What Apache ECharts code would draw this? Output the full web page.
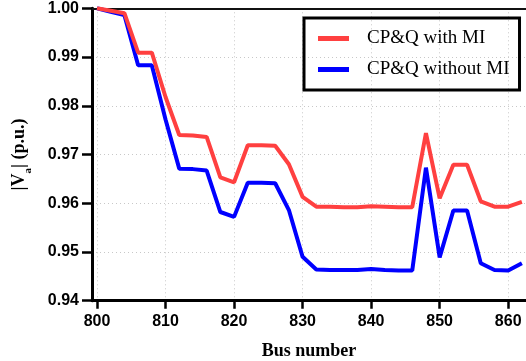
<!DOCTYPE html>
<html>
<head>
<meta charset="utf-8">
<script src="https://cdn.jsdelivr.net/npm/echarts@6/dist/echarts.min.js"></script>
<style>
  html, body { margin: 0; padding: 0; background: #fff; }
  #main { width: 526px; height: 361px; }
</style>
</head>
<body>
<div id="main"></div>
<script>
// bus numbers along the feeder
var buses = [800, 802, 804, 806, 808, 810, 812, 814, 816, 818, 820, 822, 824, 826, 828, 830,
             832, 834, 836, 838, 840, 842, 844, 846, 848, 850, 852, 854, 856, 858, 860, 862];

// |Va| with MI (red)
var withMI = [1.0000, 0.9995, 0.9990, 0.9909, 0.9909, 0.9818, 0.9740, 0.9739, 0.9736, 0.9653,
              0.9643, 0.9719, 0.9719, 0.9718, 0.9680, 0.9613, 0.9593, 0.9593, 0.9592, 0.9592,
              0.9594, 0.9593, 0.9592, 0.9592, 0.9744, 0.9610, 0.9679, 0.9679, 0.9604, 0.9593,
              0.9593, 0.9603];

// |Va| without MI (blue)
var withoutMI = [1.0000, 0.9993, 0.9986, 0.9883, 0.9883, 0.9772, 0.9671, 0.9670, 0.9667, 0.9582,
                 0.9572, 0.9642, 0.9642, 0.9641, 0.9586, 0.9490, 0.9464, 0.9463, 0.9463, 0.9463,
                 0.9465, 0.9463, 0.9462, 0.9462, 0.9673, 0.9489, 0.9585, 0.9585, 0.9477, 0.9463,
                 0.9462, 0.9477];

var xTicks = [800, 810, 820, 830, 840, 850, 860];

function pairs(ys) {
  return buses.map(function (b, i) { return [b, ys[i]]; });
}

var chart = echarts.init(document.getElementById('main'));

var option = {
  animation: false,
  grid: { left: 92, right: 0, top: 8.3, bottom: 60.3, outerBoundsMode: 'none', containLabel: false },
  legend: {
    orient: 'vertical',
    left: 304,
    top: 18,
    padding: [10, 10, 10, 14],
    itemGap: 10,
    itemWidth: 31,
    itemHeight: 5,
    borderWidth: 3,
    borderColor: '#000',
    textStyle: {
      fontFamily: 'Liberation Serif',
      fontSize: 19,
      color: '#000',
      lineHeight: 21,
      padding: [0, 0, 0, 13]
    },
    data: [
      { name: 'CP&Q with MI', icon: 'rect' },
      { name: 'CP&Q without MI', icon: 'rect' }
    ]
  },
  xAxis: [{
    type: 'value',
    min: 799.27,
    max: 862.6,
    name: 'Bus number',
    nameLocation: 'middle',
    nameGap: 42,
    nameTextStyle: { fontFamily: 'Liberation Serif', fontWeight: 'bold', fontSize: 18, color: '#000' },
    axisLine: { onZero: false, lineStyle: { color: '#000', width: 3 } },
    axisTick: { customValues: xTicks, length: 8, lineStyle: { color: '#000', width: 2.5 } },
    axisLabel: {
      customValues: xTicks,
      margin: 13,
      fontFamily: 'Liberation Sans',
      fontWeight: 'bold',
      fontSize: 16,
      color: '#000'
    },
    splitLine: { show: true, lineStyle: { color: '#c8c8c8', type: [1, 3], width: 1 } }
  }, {
    type: 'value',
    position: 'top',
    min: 799.27,
    max: 862.6,
    axisLine: { show: true, onZero: false, lineStyle: { color: '#111', width: 2 } },
    axisTick: { show: false },
    axisLabel: { show: false },
    splitLine: { show: false }
  }],
  yAxis: {
    type: 'value',
    min: 0.94,
    max: 1.0,
    interval: 0.01,
    name: '{n||V}{s|a}{n|| (p.u.)}',
    nameLocation: 'middle',
    nameGap: 62,
    nameTextStyle: {
      rich: {
        n: { fontFamily: 'Liberation Serif', fontWeight: 'bold', fontSize: 18, color: '#000', lineHeight: 22 },
        s: { fontFamily: 'Liberation Serif', fontWeight: 'bold', fontSize: 11, color: '#000', lineHeight: 22, verticalAlign: 'bottom', padding: [0, 0, -4, 0] }
      }
    },
    axisLine: { show: true, onZero: false, lineStyle: { color: '#000', width: 3 } },
    axisTick: { show: true, length: 10, lineStyle: { color: '#000', width: 2.5 } },
    axisLabel: {
      margin: 13,
      fontFamily: 'Liberation Sans',
      fontWeight: 'bold',
      fontSize: 16,
      color: '#000',
      formatter: function (v) { return v.toFixed(2); }
    },
    splitLine: { show: true, lineStyle: { color: '#c8c8c8', type: [1, 3], width: 1 } }
  },
  series: [{
    name: 'CP&Q without MI',
    type: 'line',
    data: pairs(withoutMI),
    showSymbol: false,
    color: '#0000ff',
    lineStyle: { width: 4, color: '#0000ff' },
    z: 2
  }, {
    name: 'CP&Q with MI',
    type: 'line',
    data: pairs(withMI),
    showSymbol: false,
    color: '#ff4040',
    lineStyle: { width: 4, color: '#ff4040' },
    z: 3
  }]
};

chart.setOption(option);
</script>
</body>
</html>
